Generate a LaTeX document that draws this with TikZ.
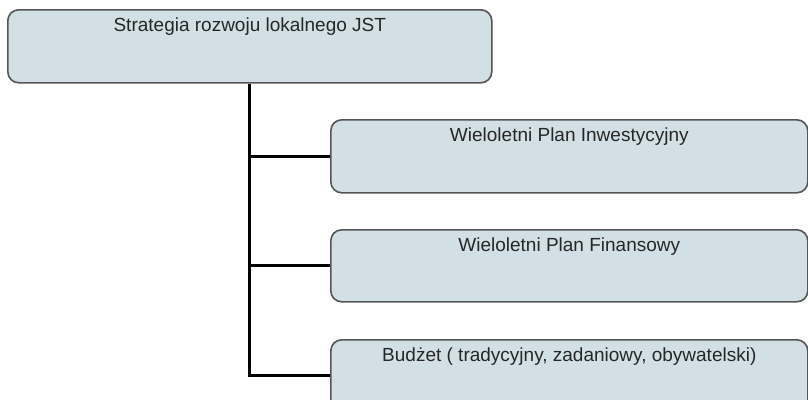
\documentclass[tikz,border=0pt]{standalone}
\usepackage{fontspec}
\setmainfont{Liberation Sans}
\definecolor{boxfill}{RGB}{210,224,229}
\definecolor{boxline}{RGB}{85,85,85}
\begin{document}
\begin{tikzpicture}[x=1pt,y=-1pt,
  box/.style={draw=boxline,line width=1.6pt,fill=boxfill,rounded corners=11pt,inner sep=0pt,anchor=north west},
  lbl/.style={anchor=base,font=\fontsize{19}{22}\selectfont,text=black!85,inner sep=0pt},
  conn/.style={draw=black,line width=3pt}]
\useasboundingbox (0,0) rectangle (808,399);
\node[box,minimum width=484pt,minimum height=73pt] (top) at (7,9) {};
\node[box,minimum width=477pt,minimum height=73pt] (b2) at (330,119) {};
\node[box,minimum width=477pt,minimum height=72pt] (b3) at (330,229) {};
\node[box,minimum width=477pt,minimum height=72pt] (b4) at (330,339) {};
\node[lbl] (t1) at ([yshift=-22.5pt]top.north) {Strategia rozwoju lokalnego JST};
\node[lbl] (t2) at ([yshift=-22.5pt]b2.north) {Wieloletni Plan Inwestycyjny};
\node[lbl] (t3) at ([yshift=-22.5pt]b3.north) {Wieloletni Plan Finansowy};
\node[lbl] (t4) at ([yshift=-22.5pt]b4.north) {Budżet ( tradycyjny, zadaniowy, obywatelski)};
\draw[conn] (top.south) -- (top.south |- b4.west) -- (b4.west);
\draw[conn] (top.south |- b2.west) -- (b2.west);
\draw[conn] (top.south |- b3.west) -- (b3.west);
\end{tikzpicture}
\end{document}
